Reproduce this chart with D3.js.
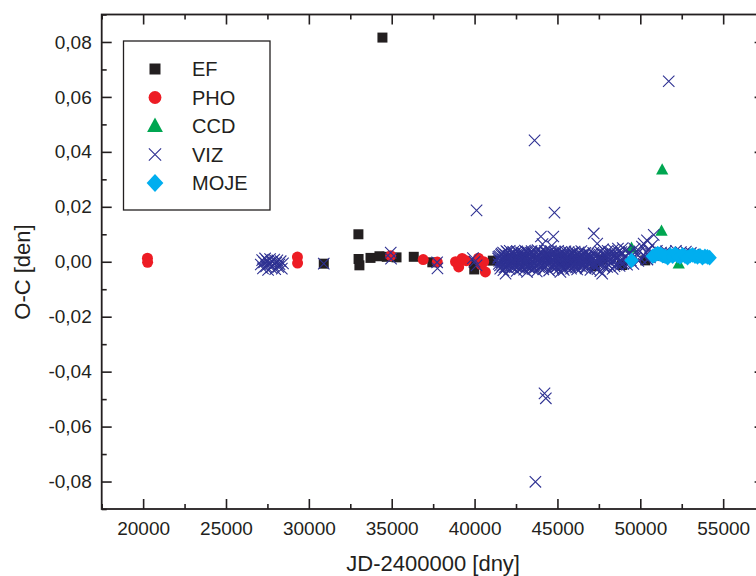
<!DOCTYPE html>
<html>
<head>
<meta charset="utf-8">
<script src="https://cdn.jsdelivr.net/npm/d3@7"></script>
<style>
  html, body { margin: 0; padding: 0; background: #fff; }
  svg { display: block; }
  text { font-family: "Liberation Sans", Arial, Helvetica, sans-serif; fill: #231f20; }
</style>
</head>
<body>
<div id="chart"></div>
<script>
// ---------------- DATA ----------------
const seriesNames = ["EF", "PHO", "CCD", "VIZ", "MOJE"];

const xTickValues = [20000, 25000, 30000, 35000, 40000, 45000, 50000, 55000];
const xTickLabels = ["20000", "25000", "30000", "35000", "40000", "45000", "50000", "55000"];
const yTickValues = [-0.08, -0.06, -0.04, -0.02, 0, 0.02, 0.04, 0.06, 0.08];
const yTickLabels = ["-0,08", "-0,06", "-0,04", "-0,02", "0,00", "0,02", "0,04", "0,06", "0,08"];
const xMinorTicks = [17500, 22500, 27500, 32500, 37500, 42500, 47500, 52500, 57500];
const yMinorTicks = [-0.09, -0.07, -0.05, -0.03, -0.01, 0.01, 0.03, 0.05, 0.07, 0.09];

// EF (black squares)
const efData = [
  [30900, -0.0007], [32990, 0.0100], [33000, 0.0010], [33050, -0.0013], [33720, 0.0014],
  [34260, 0.0020], [34440, 0.0816], [34700, 0.0018], [35290, 0.0016], [36330, 0.0018],
  [37450, -0.0002], [39950, -0.0005], [39980, -0.0028], [41100, 0.0004], [47250, -0.0016],
  [47700, 0.0008], [48900, -0.0012], [50300, 0.0005]
];

// PHO (red circles)
const phoData = [
  [20260, 0.0013], [20270, -0.0002], [29310, 0.0017], [29320, -0.0005], [34940, 0.0022],
  [36900, 0.0008], [37750, -0.0001], [38850, 0.0000], [39040, -0.0019], [39250, 0.0012],
  [39500, 0.0004], [40230, 0.0013], [40400, -0.0010], [40550, 0.0000], [40650, -0.0037]
];

// CCD (green triangles)
const ccdData = [
  [49470, 0.0050], [50700, 0.0020], [51280, 0.0112], [51320, 0.0335], [52320, -0.0007],
  [53000, 0.0020]
];

// VIZ (blue crosses)
const vizData = [
  // early group
  [27100, -0.0010], [27180, 0.0006], [27230, -0.0024], [27300, -0.0002], [27360, 0.0012],
  [27420, -0.0017], [27480, 0.0003], [27540, -0.0030], [27600, -0.0008], [27660, 0.0010],
  [27720, -0.0021], [27780, 0.0000], [27850, -0.0013], [27910, 0.0008], [27970, -0.0027],
  [28030, -0.0004], [28100, 0.0005], [28160, -0.0019], [28230, -0.0009], [28300, 0.0002],
  [28370, -0.0025], [28440, -0.0006],
  [30900, -0.0007],
  [34940, 0.0033], [34960, 0.0011],
  [37740, -0.0002], [37760, -0.0024],
  [39900, 0.0013], [40000, 0.0000], [40120, -0.0013], [40120, 0.0187],
  // outliers
  [43620, 0.0442], [51715, 0.0657], [44820, 0.0179], [44000, 0.0092], [44750, 0.0092],
  [44100, 0.0064], [44650, 0.0058], [47190, 0.0103], [47400, 0.0066], [50810, 0.0098],
  [50400, 0.0078], [44220, -0.0479], [44300, -0.0497], [43670, -0.0801],
  [41870, -0.0043], [43170, -0.0037], [45180, -0.0037], [47700, -0.0043],
  // dense cluster
  [41420, 0.0012], [41460, -0.0008], [41510, 0.0021], [41550, -0.0025], [41580, 0.0004],
  [41630, 0.0030], [41670, -0.0014], [41700, 0.0009], [41740, -0.0031], [41790, 0.0017],
  [41830, -0.0003], [41860, 0.0026], [41900, -0.0019], [41950, 0.0006], [41980, 0.0035],
  [42020, -0.0011], [42070, 0.0014], [42100, -0.0027], [42140, 0.0002], [42190, 0.0023],
  [42220, -0.0006], [42260, 0.0031], [42300, -0.0021], [42350, 0.0010], [42380, -0.0001],
  [42420, 0.0028], [42470, -0.0016], [42500, 0.0007], [42540, -0.0033], [42580, 0.0019],
  [42620, 0.0000], [42660, 0.0033], [42700, -0.0012], [42750, 0.0015], [42780, -0.0024],
  [42820, 0.0005], [42870, 0.0025], [42900, -0.0008], [42940, 0.0012], [42990, -0.0029],
  [43020, 0.0020], [43060, -0.0004], [43110, 0.0037], [43140, -0.0017], [43180, 0.0008],
  [43230, -0.0002], [43260, 0.0027], [43300, -0.0022], [43350, 0.0013], [43380, -0.0010],
  [43420, 0.0032], [43470, 0.0003], [43500, -0.0026], [43540, 0.0018], [43590, -0.0007],
  [43620, 0.0024], [43660, -0.0015], [43700, 0.0009], [43750, -0.0035], [43780, 0.0016],
  [43820, 0.0001], [43870, 0.0029], [43900, -0.0020], [43940, 0.0011], [43980, -0.0005],
  [44030, 0.0034], [44060, -0.0013], [44100, 0.0006], [44150, -0.0028], [44180, 0.0022],
  [44220, -0.0003], [44270, 0.0015], [44300, -0.0018], [44340, 0.0030], [44380, 0.0004],
  [44430, -0.0009], [44460, 0.0020], [44500, -0.0032], [44550, 0.0012], [44580, -0.0001],
  [44620, 0.0026], [44670, -0.0014], [44700, 0.0008], [44740, -0.0023], [44790, 0.0017],
  [44820, 0.0036], [44860, -0.0006], [44900, 0.0010], [44950, -0.0019], [44980, 0.0023],
  [45020, 0.0002], [45060, -0.0027], [45110, 0.0014], [45140, -0.0010], [45180, 0.0031],
  [45230, -0.0004], [45260, 0.0007], [45300, -0.0016], [45350, 0.0021], [45380, -0.0030],
  [45420, 0.0011], [45460, 0.0028], [45500, -0.0008], [45550, 0.0003], [45580, -0.0021],
  [45620, 0.0018], [45670, -0.0002], [45700, 0.0025], [45740, -0.0012], [45790, 0.0009],
  [45820, -0.0025], [45860, 0.0015], [45900, 0.0033], [45950, -0.0005], [45980, 0.0006],
  [46020, -0.0017], [46070, 0.0020], [46100, -0.0009], [46140, 0.0012], [46190, -0.0028],
  [46220, 0.0027], [46260, 0.0001], [46300, -0.0014], [46350, 0.0016], [46380, -0.0003],
  [46420, 0.0023], [46470, -0.0020], [46500, 0.0008], [46540, -0.0007], [46590, 0.0030],
  [46620, -0.0011], [46660, 0.0013], [46700, -0.0024], [46750, 0.0004], [46780, 0.0019],
  [46820, -0.0015], [46870, 0.0010], [46900, -0.0001], [46940, 0.0026], [46990, -0.0030],
  [41440, 0.0018], [41490, 0.0003], [41530, -0.0013], [41600, 0.0025], [41650, -0.0002],
  [41720, 0.0033], [41770, 0.0008], [41810, -0.0020], [41880, 0.0015], [41920, 0.0039],
  [41970, -0.0009], [42040, 0.0022], [42090, 0.0005], [42120, 0.0040], [42170, -0.0015],
  [42240, 0.0017], [42280, 0.0000], [42330, 0.0036], [42400, -0.0012], [42440, 0.0021],
  [42490, 0.0009], [42560, 0.0038], [42600, -0.0019], [42640, 0.0012], [42690, 0.0027],
  [42730, -0.0004], [42800, 0.0034], [42840, 0.0016], [42890, -0.0021], [42960, 0.0030],
  [43000, 0.0006], [43040, 0.0041], [43090, -0.0011], [43160, 0.0019], [43200, 0.0035],
  [43250, 0.0001], [43280, -0.0017], [43320, 0.0024], [43400, 0.0010], [43440, 0.0039],
  [43490, -0.0013], [43560, 0.0028], [43600, 0.0005], [43640, -0.0022], [43680, 0.0034],
  [43720, 0.0014], [43800, 0.0042], [43850, -0.0010], [43920, 0.0021], [43960, 0.0003],
  [44000, 0.0037], [44080, -0.0016], [44120, 0.0025], [44200, 0.0011], [44240, 0.0040],
  [44320, -0.0008], [44360, 0.0019], [44400, 0.0031], [44480, -0.0004], [44520, 0.0023],
  [44600, 0.0039], [44640, 0.0002], [44720, 0.0029], [44760, -0.0012], [44840, 0.0014],
  [44880, 0.0033], [44920, -0.0020], [45000, 0.0018], [45040, 0.0040], [45080, 0.0005],
  [45160, 0.0024], [45200, -0.0013], [45240, 0.0036], [45280, 0.0012], [45320, -0.0024],
  [45400, 0.0027], [45440, 0.0003], [45480, 0.0038], [45520, -0.0015], [45600, 0.0022],
  [45640, 0.0009], [45680, 0.0035], [45760, -0.0018], [45800, 0.0020], [45840, 0.0004],
  [45880, -0.0009], [45920, 0.0029], [46000, 0.0013], [46040, 0.0037], [46120, -0.0021],
  [46160, 0.0024], [46240, 0.0008], [46280, 0.0034], [46320, -0.0006], [46400, 0.0017],
  [46440, 0.0039], [46520, -0.0013], [46560, 0.0021], [46640, 0.0005], [46680, 0.0032],
  [46720, -0.0018], [46800, 0.0011], [46840, 0.0028], [46920, -0.0009], [46960, 0.0017],
  // sparser tail
  [47050, 0.0014], [47120, -0.0010], [47200, 0.0026], [47280, -0.0022], [47330, 0.0006],
  [47450, -0.0006], [47520, 0.0019], [47590, -0.0034], [47650, 0.0009], [47720, 0.0028],
  [47780, -0.0013], [47850, 0.0003], [47930, 0.0021], [48000, -0.0019], [48060, 0.0012],
  [48140, 0.0031], [48200, -0.0004], [48270, 0.0016], [48330, -0.0026], [48400, 0.0007],
  [48480, 0.0024], [48550, -0.0009], [48620, 0.0013], [48690, 0.0036], [48750, -0.0015],
  [48830, 0.0002], [48900, 0.0029], [48970, -0.0007], [49050, 0.0018], [49120, 0.0041],
  [47080, 0.0004], [47160, 0.0032], [47240, -0.0009], [47360, 0.0020], [47420, -0.0027],
  [47480, 0.0011], [47560, 0.0037], [47620, -0.0003], [47690, 0.0015], [47750, 0.0045],
  [47820, -0.0020], [47880, 0.0026], [47960, 0.0008], [48030, 0.0040], [48100, -0.0012],
  [48170, 0.0019], [48240, 0.0033], [48300, 0.0002], [48370, 0.0044], [48440, -0.0016],
  [48510, 0.0027], [48580, 0.0009], [48650, 0.0048], [48720, 0.0021], [48790, -0.0004],
  [48860, 0.0035], [48940, 0.0050], [49010, 0.0012],
  [49200, -0.0011], [49280, 0.0010], [49350, 0.0033], [49430, 0.0005], [49500, 0.0022],
  [49580, -0.0008], [49650, 0.0047], [49730, 0.0015], [49800, 0.0028], [49880, 0.0003],
  [49950, 0.0038], [50030, 0.0012], [50100, 0.0055], [50200, 0.0066], [50280, 0.0020],
  [50350, 0.0035], [50430, 0.0008], [50500, 0.0043], [50580, 0.0016], [50650, 0.0030],
  [50720, 0.0060], [50900, 0.0025], [51000, 0.0040], [51100, 0.0018], [51250, 0.0033],
  [51400, 0.0024], [51550, 0.0038], [51700, 0.0020], [51850, 0.0031], [52000, 0.0026],
  [52150, 0.0040], [52300, 0.0022], [52450, 0.0035], [52600, 0.0028], [52750, 0.0037],
  [52900, 0.0024], [53050, 0.0032], [53200, 0.0026]
];

// MOJE (cyan diamonds)
const mojeData = [
  [49470, 0.0005], [50750, 0.0020], [50900, 0.0025], [51050, 0.0030], [51200, 0.0028],
  [51350, 0.0022], [51500, 0.0020], [51650, 0.0015], [51800, 0.0025], [51950, 0.0020],
  [52100, 0.0028], [52250, 0.0022], [52400, 0.0018], [52550, 0.0025], [52700, 0.0020],
  [52850, 0.0015], [53000, 0.0022], [53150, 0.0025], [53300, 0.0020], [53450, 0.0018],
  [53600, 0.0022], [53750, 0.0015], [53900, 0.0020], [54050, 0.0018], [54180, 0.0015]
];

// ---------------- CHART ----------------
const W = 756, H = 576;
const pL = 101.7, pR = 764.6, pT = 14.5, pB = 509;
const ink = "#231f20";
const colors = { EF: "#231f20", PHO: "#ed1c24", CCD: "#00a651", VIZ: "#2e3192", MOJE: "#00aeef" };

const x = d3.scaleLinear().domain([17500, 57500]).range([pL, pR]);
const y = d3.scaleLinear().domain([-0.09, 0.09]).range([pB, pT]);

const svg = d3.select("#chart").append("svg").attr("width", W).attr("height", H);
svg.append("rect").attr("width", W).attr("height", H).attr("fill", "#fff");

// custom symbol types
const diamondType = { draw(ctx, size) { const h = Math.sqrt(size / 2); ctx.moveTo(0, -h * 1.08); ctx.lineTo(h, 0); ctx.lineTo(0, h * 1.08); ctx.lineTo(-h, 0); ctx.closePath(); } };
const crossType = { draw(ctx, size) { const h = Math.sqrt(size) / 2; ctx.moveTo(-h, -h); ctx.lineTo(h, h); ctx.moveTo(h, -h); ctx.lineTo(-h, h); } };
const triType = { draw(ctx, size) { const w = Math.sqrt(size); const hh = w * 0.92; ctx.moveTo(0, -hh * 0.58); ctx.lineTo(w / 2, hh * 0.42); ctx.lineTo(-w / 2, hh * 0.42); ctx.closePath(); } };

const symbolDefs = {
  EF:   { type: d3.symbolSquare, size: 100, legendSize: 121 },
  PHO:  { type: d3.symbolCircle, size: 95, legendSize: 130 },
  CCD:  { type: triType, size: 150, legendSize: 250 },
  VIZ:  { type: crossType, size: 130, legendSize: 150 },
  MOJE: { type: diamondType, size: 105, legendSize: 140 }
};

function drawSymbol(sel, name, legend) {
  const def = symbolDefs[name];
  const path = d3.symbol().type(def.type).size(legend ? def.legendSize : def.size)();
  if (name === "VIZ") {
    sel.attr("d", path).attr("fill", "none").attr("stroke", colors[name]).attr("stroke-width", 1.1);
  } else {
    sel.attr("d", path).attr("fill", colors[name]).attr("stroke", "none");
  }
}

const dataByName = { EF: efData, PHO: phoData, CCD: ccdData, VIZ: vizData, MOJE: mojeData };

const plot = svg.append("g");
seriesNames.forEach(name => {
  plot.append("g").selectAll("path").data(dataByName[name]).join("path")
    .attr("transform", d => `translate(${x(d[0])},${y(d[1])})`)
    .call(drawSymbol, name, false);
});

// axes (ticks inward)
const axG = svg.append("g");
function styleAxis(g) {
  g.select(".domain").remove();
  g.selectAll(".tick line").attr("stroke", ink).attr("stroke-width", 1.6);
  g.selectAll(".tick text").attr("fill", ink).style("font-size", "19px");
}
axG.append("g").attr("transform", `translate(0,${pB})`)
  .call(d3.axisBottom(x).tickValues(xTickValues).tickSize(-10).tickPadding(13)
    .tickFormat((d, i) => xTickLabels[i]))
  .call(styleAxis);
axG.append("g").attr("transform", `translate(0,${pB})`)
  .call(d3.axisBottom(x).tickValues(xMinorTicks).tickSize(-5).tickFormat(""))
  .call(styleAxis);
axG.append("g").attr("transform", `translate(0,${pT})`)
  .call(d3.axisTop(x).tickValues(xTickValues).tickSize(-10).tickFormat(""))
  .call(styleAxis);
axG.append("g").attr("transform", `translate(0,${pT})`)
  .call(d3.axisTop(x).tickValues(xMinorTicks).tickSize(-5).tickFormat(""))
  .call(styleAxis);
axG.append("g").attr("transform", `translate(${pL},0)`)
  .call(d3.axisLeft(y).tickValues(yTickValues).tickSize(-10).tickPadding(10)
    .tickFormat((d, i) => yTickLabels[i]))
  .call(styleAxis);
axG.append("g").attr("transform", `translate(${pL},0)`)
  .call(d3.axisLeft(y).tickValues(yMinorTicks).tickSize(-5).tickFormat(""))
  .call(styleAxis);
axG.append("g").attr("transform", `translate(${pR},0)`)
  .call(d3.axisRight(y).tickValues(yTickValues).tickSize(-10).tickFormat(""))
  .call(styleAxis);
axG.append("g").attr("transform", `translate(${pR},0)`)
  .call(d3.axisRight(y).tickValues(yMinorTicks).tickSize(-5).tickFormat(""))
  .call(styleAxis);

// frame
svg.append("rect").attr("x", pL).attr("y", pT).attr("width", pR - pL).attr("height", pB - pT)
  .attr("fill", "none").attr("stroke", ink).attr("stroke-width", 1.8);

// axis titles
svg.append("text").attr("x", (pL + pR) / 2).attr("y", 571).attr("text-anchor", "middle")
  .style("font-size", "22px").text("JD-2400000 [dny]");
svg.append("text").attr("transform", "translate(30,272) rotate(-90)").attr("text-anchor", "middle")
  .style("font-size", "22px").text("O-C [den]");

// legend
const lg = svg.append("g");
lg.append("rect").attr("x", 123.5).attr("y", 41).attr("width", 146.5).attr("height", 169)
  .attr("fill", "#fff").attr("stroke", ink).attr("stroke-width", 1.3);
const legendY = d3.scalePoint().domain(seriesNames).range([69, 183]);
seriesNames.forEach(name => {
  lg.append("path").attr("transform", `translate(155,${legendY(name)})`).call(drawSymbol, name, true);
  lg.append("text").attr("x", 192).attr("y", legendY(name)).attr("dy", "0.36em")
    .style("font-size", "20px").text(name);
});
</script>
</body>
</html>
